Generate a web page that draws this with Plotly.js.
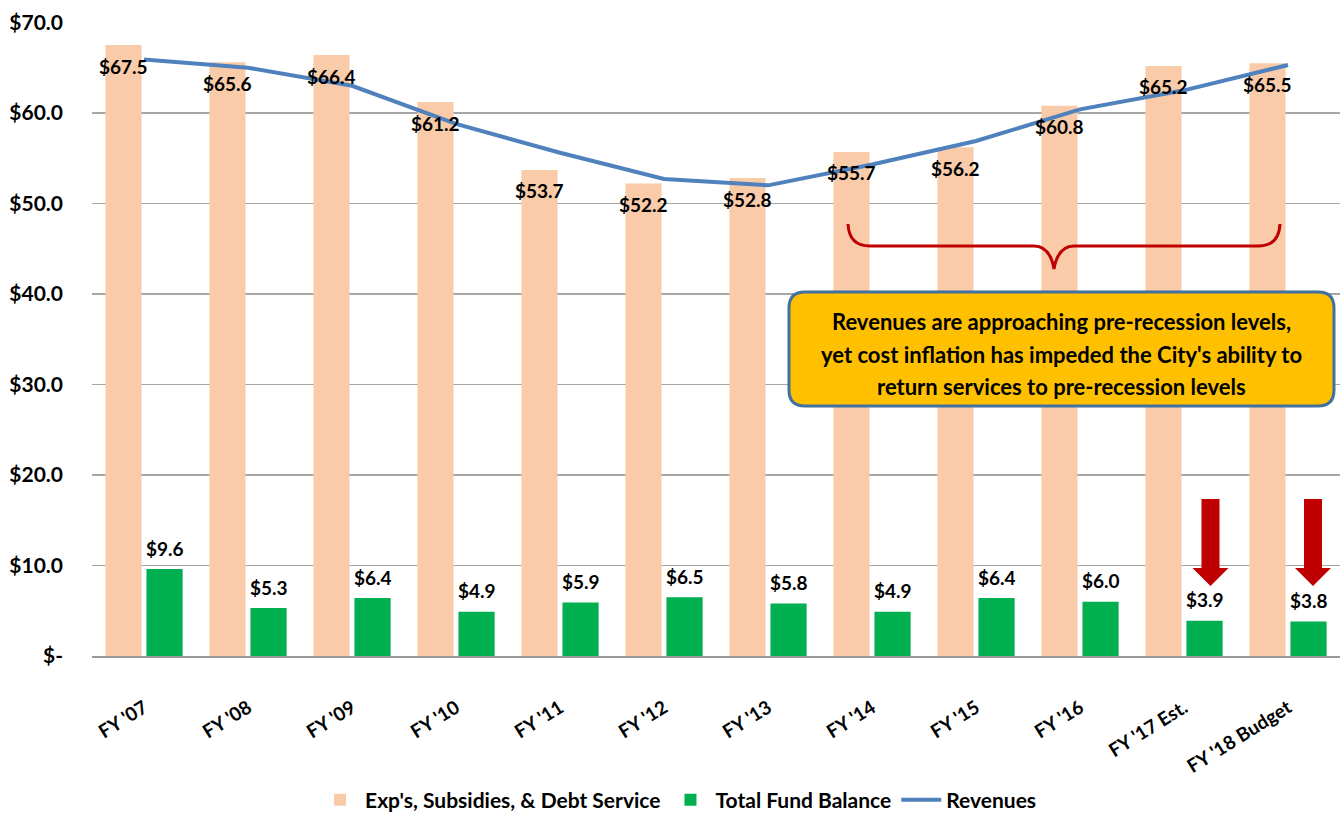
<!DOCTYPE html>
<html>
<head>
<meta charset="utf-8">
<script src="https://cdn.plot.ly/plotly-3.0.1.min.js"></script>
<style>
html,body{margin:0;padding:0;background:#fff;}
#chart{width:1343px;height:816px;}
</style>
</head>
<body>
<div id="chart"></div>
<script>
const categories = ["FY '07","FY '08","FY '09","FY '10","FY '11","FY '12","FY '13","FY '14","FY '15","FY '16","FY '17 Est.","FY '18 Budget"];
const expenses = [67.5,65.6,66.4,61.2,53.7,52.2,52.8,55.7,56.2,60.8,65.2,65.5];
const fundBalance = [9.6,5.3,6.4,4.9,5.9,6.5,5.8,4.9,6.4,6.0,3.9,3.8];
const revenues = [65.9,65.0,63.0,58.8,55.6,52.7,52.0,54.3,56.9,60.4,62.5,65.3];
const yTickVals = [0,10,20,30,40,50,60,70];
const yTickText = ["$-","$10.0","$20.0","$30.0","$40.0","$50.0","$60.0","$70.0"];
const seriesNames = ["Exp's, Subsidies, & Debt Service","Total Fund Balance","Revenues"];
const calloutLines = ["Revenues are approaching pre-recession levels,","yet cost inflation has impeded the City's ability to","return services to pre-recession levels"];

const FONT = "Lato, 'Open Sans', sans-serif";
const L=92, T=22, W=1248, H=634;
const px = p => (p-L)/W;
const py = p => (T+H-p)/H;
const fmt = v => '$' + v.toFixed(1);

function P(list){
  return list.map(c=>{
    const cmd=c[0]; const nums=c.slice(1); const parts=[];
    for(let i=0;i<nums.length;i+=2){ parts.push(px(nums[i]).toFixed(5)+','+py(nums[i+1]).toFixed(5)); }
    return cmd+' '+parts.join(' ');
  }).join(' ');
}
function rrect(x0,y0,x1,y1,r){
  return P([['M',x0+r,y0],['L',x1-r,y0],['Q',x1,y0,x1,y0+r],['L',x1,y1-r],['Q',x1,y1,x1-r,y1],
            ['L',x0+r,y1],['Q',x0,y1,x0,y1-r],['L',x0,y0+r],['Q',x0,y0,x0+r,y0]]) + ' Z';
}
function arrow(cx,top,hb,tip,sw,hw){
  return P([['M',cx-sw/2,top],['L',cx+sw/2,top],['L',cx+sw/2,hb],['L',cx+hw/2,hb],['L',cx,tip],
            ['L',cx-hw/2,hb],['L',cx-sw/2,hb]]) + ' Z';
}
const bracePath = P([['M',848,224],['Q',849,246,870,246],['L',1034,246],['Q',1050,246,1054,269],
                     ['Q',1058,246,1074,246],['L',1258,246],['Q',1279,246,1280,224]]);

const traces = [
  {type:'bar', name:seriesNames[0], x:categories, y:expenses, marker:{color:'#F9CBA8'}},
  {type:'bar', name:seriesNames[1], x:categories, y:fundBalance, marker:{color:'#00B050'}},
  {type:'scatter', mode:'lines', name:seriesNames[2], x:categories, y:revenues, line:{color:'#4F81BD', width:4}}
];

const labelFont = {family:FONT, size:19, color:'#000', weight:700};
const annotations = [];
expenses.forEach((v,i)=>annotations.push({x:categories[i], y:v, xref:'x', yref:'y', text:fmt(v), showarrow:false,
  xshift:-20.5, yshift:-21, font:labelFont}));
fundBalance.forEach((v,i)=>annotations.push({x:categories[i], y:v, xref:'x', yref:'y', text:fmt(v), showarrow:false,
  xshift:20.5, yshift:21, font:labelFont}));
calloutLines.forEach((t,i)=>annotations.push({x:px(1061.5), y:py(322+i*32), xref:'paper', yref:'paper', text:t,
  showarrow:false, xanchor:'center', yanchor:'middle', font:{family:FONT, size:22, color:'#000', weight:700}}));

const shapes = [
  {type:'path', xref:'paper', yref:'paper', path:bracePath, line:{color:'#C00000', width:3}, fillcolor:'rgba(0,0,0,0)'},
  {type:'path', xref:'paper', yref:'paper', path:rrect(789,292,1334,406,16), fillcolor:'#FFC000', line:{color:'#41719C', width:3}},
  {type:'path', xref:'paper', yref:'paper', path:arrow(1210.5,499,568,586,18,36), fillcolor:'#C00000', line:{width:0}},
  {type:'path', xref:'paper', yref:'paper', path:arrow(1313,499,568,586,18,36), fillcolor:'#C00000', line:{width:0}}
];

const layout = {
  width:1343, height:816,
  margin:{l:L, r:1343-L-W, t:T, b:816-T-H, pad:0, autoexpand:false},
  paper_bgcolor:'#fff', plot_bgcolor:'#fff',
  font:{family:FONT, size:19, color:'#000', weight:700},
  barmode:'group', bargap:0.21, bargroupgap:0.12,
  showlegend:true,
  legend:{orientation:'h', x:0.47, xanchor:'center', y:py(800), yanchor:'middle', itemwidth:40,
          font:{family:FONT, size:21, color:'#000', weight:700}, traceorder:'normal', tracegroupgap:0},
  xaxis:{type:'category', tickangle:-32, showgrid:false, showline:true, linecolor:'#9A9A9A', linewidth:1.5,
         ticks:'outside', ticklen:32, tickcolor:'rgba(0,0,0,0)', automargin:false,
         tickfont:{family:FONT, size:19, weight:700}, fixedrange:true},
  yaxis:{range:[0,70.05], tickvals:yTickVals, ticktext:yTickText, showgrid:true, gridcolor:'#A6A6A6', gridwidth:1.2,
         zeroline:false, showline:false, ticks:'', ticklabelstandoff:28, automargin:false,
         tickfont:{family:FONT, size:21, weight:700}, fixedrange:true},
  shapes:shapes,
  annotations:annotations
};

Plotly.newPlot('chart', traces, layout, {displayModeBar:false, staticPlot:true});
</script>
</body>
</html>
